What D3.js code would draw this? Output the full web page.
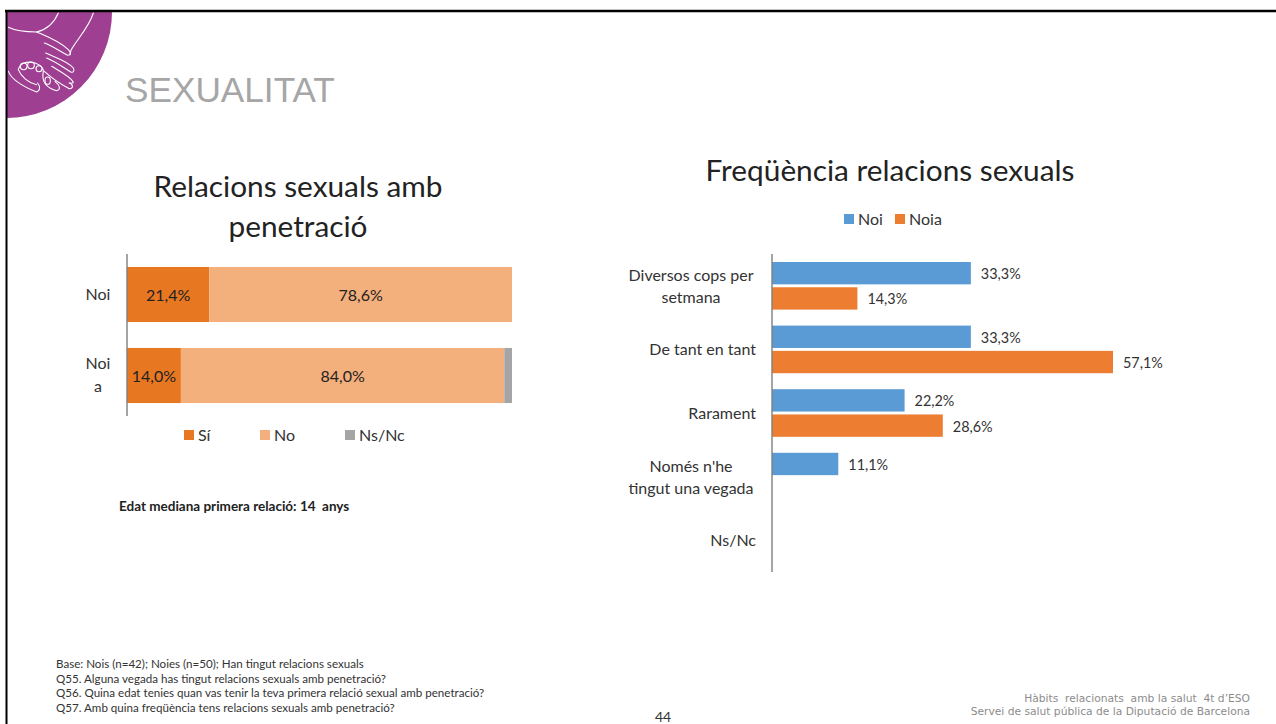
<!DOCTYPE html>
<html><head><meta charset="utf-8">
<script src="https://cdn.jsdelivr.net/npm/d3@7"></script>
<style>html,body{margin:0;padding:0;background:#fff;overflow:hidden}svg{display:block}text{font-family:Lato,"Open Sans",sans-serif}</style>
</head><body><svg id="c" width="1276" height="724"></svg>
<script>
const leftCategories=["Noi","Noia"];
const leftCategoryLines=[["Noi"],["Noi","a"]];
const leftSeries=["Sí","No","Ns/Nc"];
const leftSi=[21.4,14.0];
const leftNo=[78.6,84.0];
const leftNs=[0,2.0];
const leftColors=["#E87722","#F3AF7C","#A5A5A5"];
const rightCategories=["Diversos cops per setmana","De tant en tant","Rarament","Només n'he tingut una vegada","Ns/Nc"];
const rightCategoryLines=[["Diversos cops per","setmana"],["De tant en tant"],["Rarament"],["Només n'he","tingut una vegada"],["Ns/Nc"]];
const rightSeries=["Noi","Noia"];
const rightNoi=[33.3,33.3,22.2,11.1,null];
const rightNoia=[14.3,57.1,28.6,null,null];
const rightColors=["#5B9BD5","#ED7D31"];
const footnotes=["Base: Nois (n=42); Noies (n=50); Han tingut relacions sexuals","Q55. Alguna vegada has tingut relacions sexuals amb penetració?","Q56. Quina edat tenies quan vas tenir la teva primera relació sexual amb penetració?","Q57. Amb quina freqüència tens relacions sexuals amb penetració?"];
const fmt=v=>v.toFixed(1).replace(".",",")+"%";
const svg=d3.select("#c");

// slide frame and badge
svg.append("defs").append("clipPath").attr("id","bc").append("rect").attr("x",7).attr("y",12).attr("width",200).attr("height",200);
const badge=svg.append("g").attr("clip-path","url(#bc)");
badge.append("circle").attr("cx",6).attr("cy",12).attr("r",106).attr("fill","#9E3F92");
const hand=[
"M10,58 C30,68 50,72 95,72 C120,66 145,50 160,15",
"M265,15 C255,50 225,85 205,115 C198,125 195,132 195,140",
"M95,72 C125,85 165,100 190,125 C200,135 198,142 188,142 C165,130 140,112 118,105",
"M122,135 C150,148 190,160 205,180 C210,190 205,194 197,192 C175,178 150,160 125,150",
"M140,175 C165,190 195,205 205,222 C203,228 198,226 192,225",
"M195,225 C205,232 205,242 193,242 C170,230 140,210 118,190",
"M10,190 C20,215 60,238 95,252 C106,248 106,235 98,225",
"M40,185 C45,165 65,158 90,165 C105,170 115,178 115,190 C110,215 118,238 155,248 C168,245 165,232 150,220",
"M40,185 C48,205 70,225 95,230",
"M46,175 A10,10 0 1,1 66,175 A10,10 0 1,1 46,175",
"M68,172 A10,10 0 1,1 88,172 A10,10 0 1,1 68,172",
"M93,182 A9,9 0 1,1 111,182 A9,9 0 1,1 93,182",
"M120,218 A8,11 0 1,1 136,218 A8,11 0 1,1 120,218"];
badge.append("g").attr("transform","translate(5,8) scale(0.3333)").selectAll("path").data(hand).join("path").attr("d",d=>d).attr("fill","none").attr("stroke","#fff").attr("stroke-width",3.2).attr("stroke-linecap","round");
svg.append("line").attr("x1",5).attr("x2",1276).attr("y1",11).attr("y2",11).attr("stroke","#000").attr("stroke-width",2.4);
svg.append("line").attr("x1",6.5).attr("x2",6.5).attr("y1",10).attr("y2",724).attr("stroke","#000").attr("stroke-width",2);
svg.append("text").attr("x",125).attr("y",102).attr("font-size",35.2).attr("fill","#A6A6A6").style("font-family","'Liberation Sans'").text("SEXUALITAT");

// left chart
svg.append("text").attr("x",298).attr("y",197).attr("text-anchor","middle").attr("font-size",29.8).attr("fill","#222").text("Relacions sexuals amb");
svg.append("text").attr("x",298).attr("y",237).attr("text-anchor","middle").attr("font-size",29.8).attr("fill","#222").text("penetració");
const lx=d3.scaleLinear().domain([0,100]).range([127,512]);
const ly=d3.scaleBand().domain(leftCategories).range([254,416]).paddingInner(.32).paddingOuter(.16);
const lRows=leftCategories.map((c,i)=>({c,"Sí":leftSi[i],"No":leftNo[i],"Ns/Nc":leftNs[i]}));
const stack=d3.stack().keys(leftSeries)(lRows);
const lc=d3.scaleOrdinal().domain(leftSeries).range(leftColors);
stack.forEach(s=>{
  svg.append("g").selectAll("rect").data(s).join("rect")
   .attr("x",d=>lx(d[0])).attr("width",d=>lx(d[1])-lx(d[0]))
   .attr("y",d=>ly(d.data.c)).attr("height",ly.bandwidth()).attr("fill",lc(s.key));
  if(s.key!=="Ns/Nc") svg.append("g").selectAll("text").data(s).join("text")
   .attr("x",d=>(lx(d[0])+lx(d[1]))/2).attr("y",d=>ly(d.data.c)+ly.bandwidth()/2+6)
   .attr("text-anchor","middle").attr("font-size",16).attr("fill","#222").text(d=>fmt(d[1]-d[0]));
});
svg.append("line").attr("x1",127).attr("x2",127).attr("y1",254).attr("y2",416).attr("stroke","#7F7F7F").attr("stroke-width",1.4);
leftCategories.forEach((c,i)=>{
  const ls=leftCategoryLines[i],m=ly(c)+ly.bandwidth()/2;
  ls.forEach((t,j)=>svg.append("text").attr("x",98).attr("y",m+5+(j-(ls.length-1)/2)*22.5).attr("text-anchor","middle").attr("font-size",16).attr("fill","#333").text(t));
});
const lLegX=[184,260,345];
leftSeries.forEach((s,i)=>{
  svg.append("rect").attr("x",lLegX[i]).attr("y",430).attr("width",10).attr("height",10).attr("fill",leftColors[i]);
  svg.append("text").attr("x",lLegX[i]+14).attr("y",441).attr("font-size",16).attr("fill","#333").text(s);
});
svg.append("text").attr("x",119).attr("y",511).attr("font-size",13.5).attr("font-weight",700).attr("fill","#222").attr("xml:space","preserve").text("Edat mediana primera relació: 14  anys");

// right chart
svg.append("text").attr("x",890).attr("y",181).attr("text-anchor","middle").attr("font-size",29.8).attr("fill","#222").text("Freqüència relacions sexuals");
const rx=d3.scaleLinear().domain([0,57.1]).range([772,1113]);
const ry=d3.scaleBand().domain(rightCategories).range([254,572]);
const ry1=d3.scaleBand().domain(rightSeries).range([8,ry.bandwidth()-8]).paddingInner(.115);
[rightNoi,rightNoia].forEach((vals,k)=>{
  const data=rightCategories.map((c,i)=>({c,v:vals[i]})).filter(d=>d.v!=null);
  const y=d=>ry(d.c)+ry1(rightSeries[k]);
  svg.append("g").selectAll("rect").data(data).join("rect")
   .attr("x",rx(0)).attr("y",y).attr("width",d=>rx(d.v)-rx(0)).attr("height",ry1.bandwidth()).attr("fill",rightColors[k]);
  svg.append("g").selectAll("text").data(data).join("text")
   .attr("x",d=>rx(d.v)+10).attr("y",d=>y(d)+ry1.bandwidth()/2+6).attr("font-size",14.4).attr("fill","#333").text(d=>fmt(d.v));
});
svg.append("line").attr("x1",772).attr("x2",772).attr("y1",254).attr("y2",572).attr("stroke","#7F7F7F").attr("stroke-width",1.4);
rightCategories.forEach((c,i)=>{
  const ls=rightCategoryLines[i],m=ry(c)+ry.bandwidth()/2;
  ls.forEach((t,j)=>svg.append("text").attr("x",756).attr("y",m+6+(j-(ls.length-1)/2)*22)
   .attr("text-anchor",ls.length>1?"middle":"end").attr("dx",ls.length>1?-65:0).attr("font-size",16).attr("fill","#333").text(t));
});
const rLegX=[844,895];
rightSeries.forEach((s,i)=>{
  svg.append("rect").attr("x",rLegX[i]).attr("y",214).attr("width",10).attr("height",10).attr("fill",rightColors[i]);
  svg.append("text").attr("x",rLegX[i]+14).attr("y",225).attr("font-size",16).attr("fill","#333").text(s);
});

// footer
footnotes.forEach((t,i)=>svg.append("text").attr("x",56).attr("y",668+i*14.7).attr("font-size",11.6).attr("fill","#333").text(t));
svg.append("text").attr("x",655).attr("y",722).attr("font-size",14).attr("fill","#333").text("44");
svg.append("text").attr("x",1250).attr("y",702).attr("text-anchor","end").attr("font-size",10.7).attr("fill","#8C8C8C").style("font-family","'DejaVu Sans'").attr("xml:space","preserve").text("Hàbits  relacionats  amb la salut  4t d’ESO");
svg.append("text").attr("x",1250).attr("y",715).attr("text-anchor","end").attr("font-size",10.7).attr("fill","#8C8C8C").style("font-family","'DejaVu Sans'").text("Servei de salut pública de la Diputació de Barcelona");
</script></body></html>
